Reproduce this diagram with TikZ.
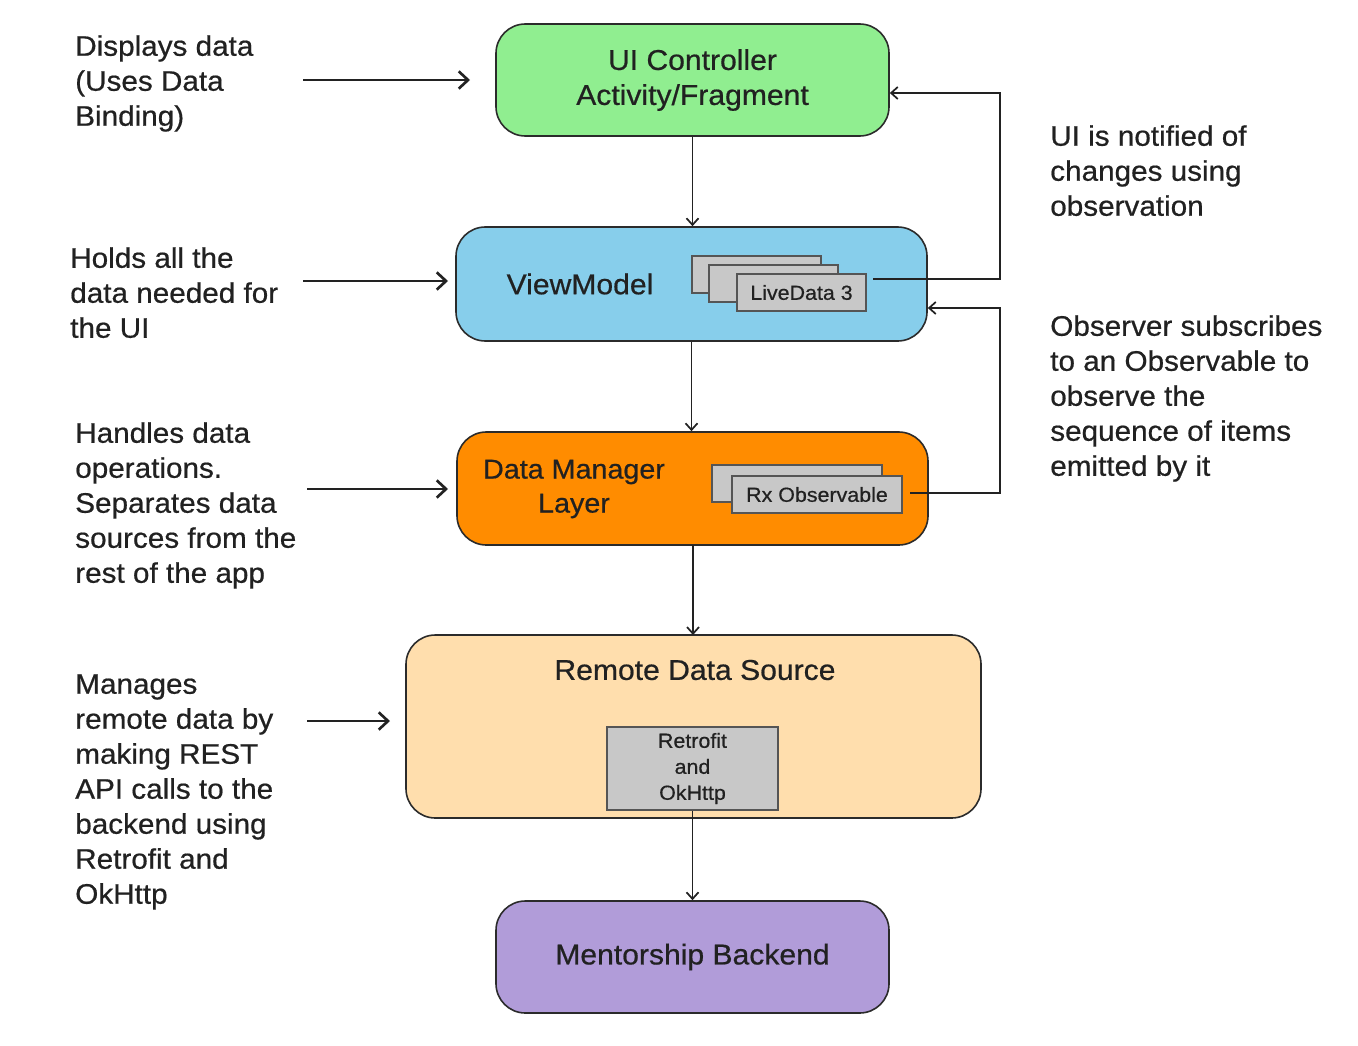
\documentclass[tikz,border=0pt]{standalone}
\usepackage{fontspec}
\setmainfont{Liberation Sans}[FakeBold=0.6,FakeStretch=1.05]
\usetikzlibrary{arrows.meta}

\definecolor{uigreen}{HTML}{90EE90}
\definecolor{vmblue}{HTML}{87CEEB}
\definecolor{dmorange}{HTML}{FF8C00}
\definecolor{rdspeach}{HTML}{FFDEAD}
\definecolor{mbpurple}{HTML}{B19CD9}
\definecolor{chipgray}{HTML}{C8C8C8}
\definecolor{chipline}{HTML}{555555}
\definecolor{boxline}{HTML}{2B2B2B}
\definecolor{arrowline}{HTML}{222222}
\definecolor{textdark}{HTML}{212121}

\begin{document}
\begin{tikzpicture}[x=0.75pt,y=-0.75pt,text=textdark,
    layer/.style={draw=boxline,line width=1.2pt,rounded corners=22pt,inner sep=0pt,align=center,
      font=\fontsize{21.5}{26.25}\selectfont},
    chip/.style={draw=chipline,fill=chipgray,line width=1.2pt,inner sep=0pt,align=center,
      font=\fontsize{15.3}{19.5}\selectfont},
    note/.style={anchor=north west,align=left,inner sep=0pt,font=\fontsize{21.2}{26.25}\selectfont},
    flow/.style={-{Straight Barb[length=5pt,width=9pt]},line width=1.3pt,draw=arrowline},
    hint/.style={-{Straight Barb[length=7pt,width=13pt]},line width=2pt,draw=arrowline}]
  \useasboundingbox (0,0) rectangle (1358,1045);

  % Layers
  \node[layer,fill=uigreen,minimum width=294.75pt,minimum height=84pt] (ui) at (692.5,80)
    {UI Controller\\Activity/Fragment};
  \node[layer,fill=vmblue,minimum width=353.25pt,minimum height=85.5pt] (vm) at (691.5,284) {};
  \node[inner sep=0pt,font=\fontsize{21.5}{26.25}\selectfont] (vmlabel) at (580,284) {ViewModel};
  \node[layer,fill=dmorange,minimum width=353.25pt,minimum height=84.75pt] (dm) at (692.5,488.5) {};
  \node[inner sep=0pt,align=center,font=\fontsize{20.5}{25.5}\selectfont] (dmlabel) at (574,489)
    {Data Manager\\Layer};
  \node[layer,fill=rdspeach,minimum width=431.25pt,minimum height=137.25pt] (rds) at (693.5,726.5) {};
  \node[inner sep=0pt,font=\fontsize{21.5}{26.25}\selectfont] (rdslabel) at (695,670) {Remote Data Source};
  \node[layer,fill=mbpurple,minimum width=294.75pt,minimum height=84pt] (mb) at (692.5,957)
    {Mentorship Backend};

  % Stacked chips
  \node[chip,minimum width=96.75pt,minimum height=27.75pt] (ld1) at (756.5,274.5) {};
  \node[chip,minimum width=96.75pt,minimum height=27.75pt] (ld2) at (773.5,283.5) {};
  \node[chip,minimum width=96.75pt,minimum height=27.75pt] (ld3) at (801.5,292.5) {LiveData 3};
  \node[chip,minimum width=127.5pt,minimum height=27.75pt] (rx1) at (797,483.5) {};
  \node[chip,minimum width=127.5pt,minimum height=27.75pt] (rx2) at (817,494.5) {Rx Observable};
  \node[chip,minimum width=128.25pt,minimum height=62.25pt] (retro) at (692.5,768.5)
    {Retrofit\\and\\OkHttp};

  % Main flow
  \draw[flow] (ui.south) -- (ui.south |- vm.north);
  \draw[flow] (vm.south) -- (vm.south |- dm.north);
  \draw[flow] (693,545) -- (693,635);
  \draw[flow] (retro.south) -- (retro.south |- mb.north);

  % Observation loops
  \coordinate (ldout) at (873,279);
  \coordinate (rxout) at (910,493);
  \draw[flow] (ldout) -- (1000,279) |- (ui.east |- 0,93);
  \draw[flow] (rxout) -- (1000,493) |- (vm.east |- 0,308);

  % Notes on the left
  \node[note] (n1) at (75,35) {Displays data\\(Uses Data\\Binding)};
  \node[note] (n2) at (70,247) {Holds all the\\data needed for\\the UI};
  \node[note] (n3) at (75,422) {Handles data\\operations.\\Separates data\\sources from the\\rest of the app};
  \node[note] (n4) at (75,674) {Manages\\remote data by\\making REST\\API calls to the\\backend using\\Retrofit and\\OkHttp};
  \draw[hint] (303,80) -- (470,80);
  \draw[hint] (303,281) -- (448,281);
  \draw[hint] (307,489) -- (448,489);
  \draw[hint] (307,721) -- (390,721);

  % Notes on the right
  \node[note] (n5) at (1050,125) {UI is notified of\\changes using\\observation};
  \node[note] (n6) at (1050,315) {Observer subscribes\\to an Observable to\\observe the\\sequence of items\\emitted by it};
\end{tikzpicture}
\end{document}
